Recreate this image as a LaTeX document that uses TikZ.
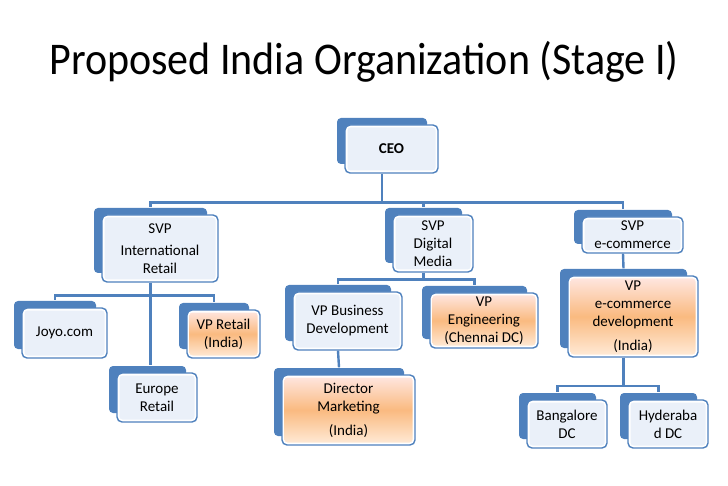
\documentclass[tikz,border=0pt]{standalone}
\usepackage{fontspec}
\setmainfont{Carlito}
\usetikzlibrary{calc}
\definecolor{obblue}{RGB}{79,129,189}
\definecolor{oblight}{RGB}{234,240,249}
\definecolor{orTop}{RGB}{255,232,228}
\definecolor{orMid}{RGB}{250,186,128}
\definecolor{orBot}{RGB}{255,236,218}
\tikzset{
  conn/.style={draw=obblue, line width=2.4pt},
  backbox/.style={fill=obblue, rounded corners=4pt},
  frontbox/.style={draw=obblue, line width=1.4pt, fill=white, rounded corners=5pt,
    align=center, inner sep=0pt, font=\fontsize{15}{18}\selectfont},
  bluefill/.style={path picture={\fill[oblight, rounded corners=3pt]
     ([shift={(2.5pt,2.5pt)}]path picture bounding box.south west) rectangle
     ([shift={(-2.5pt,-2.5pt)}]path picture bounding box.north east);}},
  orangefill/.style={path picture={\shade[top color=orTop, bottom color=orBot, middle color=orMid, rounded corners=3pt]
     ([shift={(2.5pt,2.5pt)}]path picture bounding box.south west) rectangle
     ([shift={(-2.5pt,-2.5pt)}]path picture bounding box.north east);}},
}
% #1 name, #2 x1, #3 y1, #4 x2, #5 y2, #6 fill style, #7 text
\newcommand\orgbox[7]{%
  \fill[backbox] ({#2-8},{#3-7}) rectangle ({#4-11},{#5-9});
  \node[frontbox, #6, minimum width={(#4-#2)*1pt}, minimum height={(#5-#3)*1pt}] (#1)
     at ({(#2+#4)/2},{(#3+#5)/2}) {#7};
}
\begin{document}
\begin{tikzpicture}[x=1pt, y=-1pt]
\useasboundingbox (0,0) rectangle (728,486);
\node[font=\fontsize{42}{48}\selectfont, yscale=1.08] (title) at (364,62) {Proposed India Organization (Stage I)};

\orgbox{CEO}{345}{125}{438}{173}{bluefill}{\textbf{CEO}}
\orgbox{SVPIntl}{102}{215}{218}{282}{bluefill}{SVP\\[4pt]International\\Retail}
\orgbox{SVPDM}{393}{215}{473}{272}{bluefill}{SVP\\Digital\\Media}
\orgbox{SVPEC}{582}{217}{683}{253}{bluefill}{SVP\\e-commerce}
\orgbox{VPEC}{568}{276}{698}{357}{orangefill}{VP\\e-commerce\\development\\[6pt](India)}
\orgbox{Joyo}{22}{308}{107}{358}{bluefill}{Joyo.com}
\orgbox{VPRetail}{187}{310}{260}{358}{orangefill}{VP Retail\\(India)}
\orgbox{Europe}{117}{373}{197}{422}{bluefill}{Europe\\Retail}
\orgbox{VPBD}{293}{292}{402}{350}{bluefill}{VP Business\\Development}
\orgbox{VPEng}{430}{293}{538}{348}{orangefill}{VP\\Engineering\\(Chennai DC)}
\orgbox{Director}{282}{375}{415}{445}{orangefill}{Director\\Marketing\\[6pt](India)}
\orgbox{Bangalore}{527}{400}{607}{448}{bluefill}{Bangalore\\DC}
\orgbox{Hyderabad}{628}{400}{708}{448}{bluefill}{Hyderaba\\d DC}

% connectors
\draw[conn] ([xshift=-9.5pt]CEO.south) -- ++(0,29) coordinate (h1);
\draw[conn] (h1) -| ([xshift=-9.5pt,yshift=7pt]SVPIntl.north);
\draw[conn] (h1) -| ([xshift=-9.5pt,yshift=7pt]SVPDM.north);
\draw[conn] (h1) -| ([xshift=-9.5pt,yshift=7pt]SVPEC.north);

\draw[conn] ([xshift=-9.5pt]SVPIntl.south) -- ++(0,13) coordinate (h2);
\draw[conn] (h2) -| ([xshift=-9.5pt,yshift=7pt]Joyo.north);
\draw[conn] (h2) -| ([xshift=-9.5pt,yshift=7pt]VPRetail.north);
\coordinate (eTop) at ([yshift=7pt]Europe.north);
\draw[conn] (h2) -- (h2 |- eTop);

\draw[conn] ([xshift=-9.5pt]SVPDM.south) -- ++(0,7) coordinate (h3);
\draw[conn] (h3) -| ([xshift=-9.5pt,yshift=7pt]VPBD.north);
\draw[conn] (h3) -| ([xshift=-9.5pt,yshift=7pt]VPEng.north);

\draw[conn] ([xshift=-9.5pt]VPBD.south) -- ([xshift=-9.5pt,yshift=7pt]Director.north);
\draw[conn] ([xshift=-9.5pt]SVPEC.south) -- ([xshift=-9.5pt,yshift=7pt]VPEC.north);

\draw[conn] ([xshift=-9.5pt]VPEC.south) -- ++(0,28) coordinate (h4);
\draw[conn] (h4) -| ([xshift=-9.5pt,yshift=7pt]Bangalore.north);
\draw[conn] (h4) -| ([xshift=-9.5pt,yshift=7pt]Hyderabad.north);
\end{tikzpicture}
\end{document}
